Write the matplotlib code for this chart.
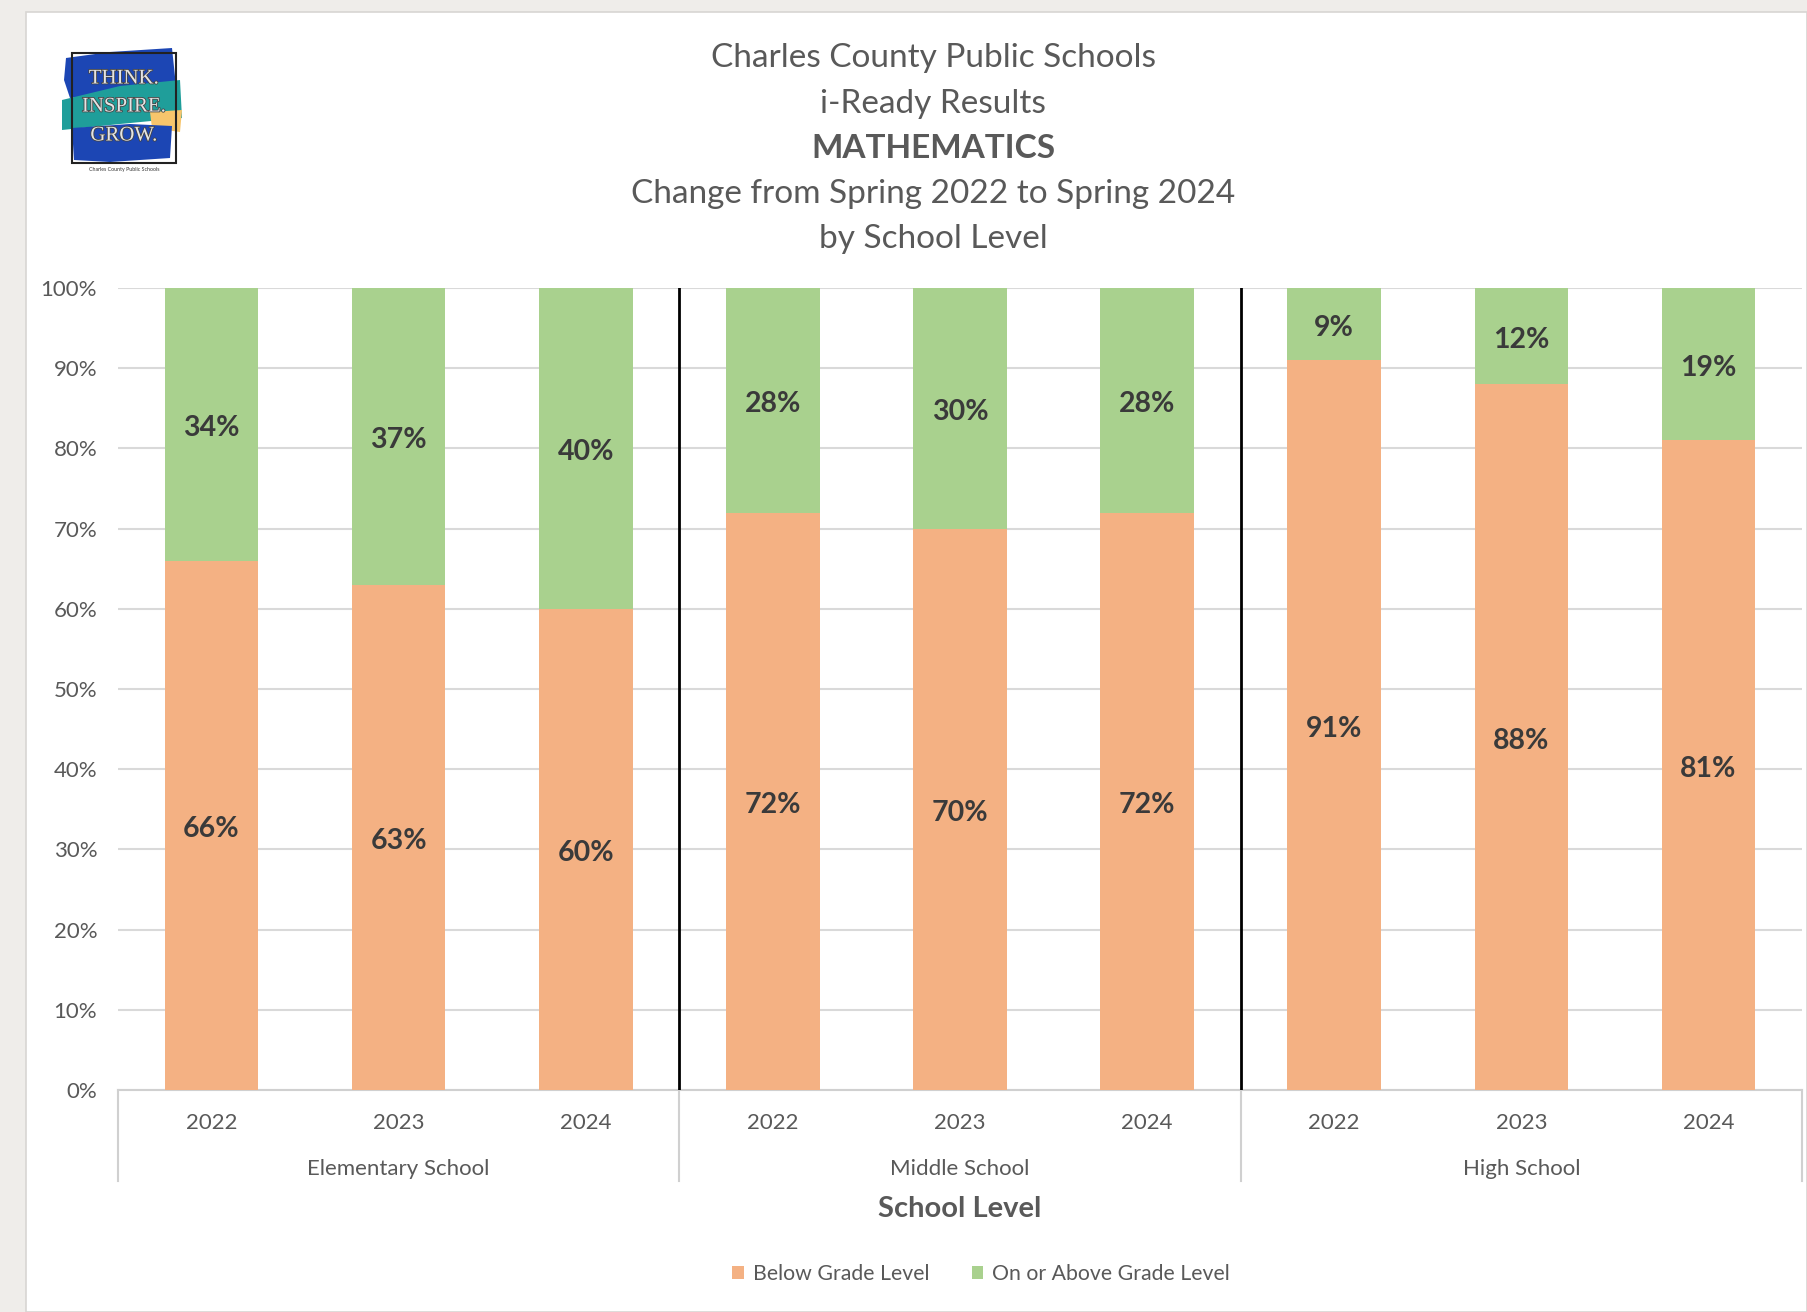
import matplotlib
matplotlib.use("Agg")
import matplotlib.pyplot as plt
from matplotlib.patches import Rectangle, Patch, Polygon
import matplotlib.patheffects as pe
import numpy as np

# ---------------- data ----------------
years = ["2022", "2023", "2024"] * 3
groups = ["Elementary School", "Middle School", "High School"]
below = [66, 63, 60, 72, 70, 72, 91, 88, 81]
above = [34, 37, 40, 28, 30, 28, 9, 12, 19]
yticks = [0, 10, 20, 30, 40, 50, 60, 70, 80, 90, 100]
title_lines = ["Charles County Public Schools", "i-Ready Results", "MATHEMATICS",
               "Change from Spring 2022 to Spring 2024", "by School Level"]
series_names = ["Below Grade Level", "On or Above Grade Level"]

ORANGE = "#F4B183"
GREEN = "#A9D18E"
TXT = "#595959"
LBL = "#3a3a3a"
FONT = "Lato"

W, H = 1807, 1312
fig = plt.figure(figsize=(W / 100, H / 100), dpi=100)
fig.patch.set_facecolor("#efedea")

def fx(px):
    return px / W

def fy(py):
    return 1 - py / H

# white panel
panel = Rectangle((fx(26), 0), 1 - fx(26), fy(12), transform=fig.transFigure,
                  facecolor="white", edgecolor="#d8d6d3", linewidth=1.2, zorder=-10)
fig.patches.append(panel)

# ---------------- main axes ----------------
L, R, T, B = 118, 1802, 288, 1090
ax = fig.add_axes([fx(L), fy(B), fx(R - L), (B - T) / H])
ax.set_facecolor("none")
x = np.arange(len(below))
ax.bar(x, below, width=0.5, color=ORANGE, zorder=3)
ax.bar(x, above, width=0.5, bottom=below, color=GREEN, zorder=3)

dy = -4 / (B - T) * 100  # small downward nudge (data units) to match label centring
for i in range(len(below)):
    ax.text(x[i], below[i] / 2 + dy, f"{below[i]}%", ha="center", va="center", fontsize=20.5,
            fontweight="bold", color=LBL, family=FONT, zorder=4)
    ax.text(x[i], below[i] + above[i] / 2 + dy, f"{above[i]}%", ha="center", va="center",
            fontsize=20.5, fontweight="bold", color=LBL, family=FONT, zorder=4)

ax.set_xlim(-0.5, len(below) - 0.5)
ax.set_ylim(0, 100)
ax.set_yticks(yticks)
ax.set_yticklabels([f"{v}%" for v in yticks], family=FONT, fontsize=16, color=TXT)
ax.yaxis.grid(True, color="#d9d9d9", linewidth=1.5, zorder=0)
ax.tick_params(axis="y", length=0, pad=15)
ax.tick_params(axis="x", length=0, pad=0)
ax.set_xticks(x)
ax.set_xticklabels([])
for s in ["top", "right", "left"]:
    ax.spines[s].set_visible(False)
ax.spines["bottom"].set_color("#d0d0d0")
ax.spines["bottom"].set_linewidth(1.5)

def ypx(py):
    return -(py - B) / (B - T) * 100

# year labels
for i in range(len(below)):
    ax.text(x[i], ypx(1123), years[i], ha="center", va="center",
            fontsize=16, color=TXT, family=FONT, clip_on=False)
# group labels and brackets
for g, name in enumerate(groups):
    ax.text(3 * g + 1, ypx(1169), name, ha="center", va="center",
            fontsize=16, color=TXT, family=FONT, clip_on=False)
for xb in [-0.5, 2.5, 5.5, 8.5]:
    ax.plot([xb, xb], [0, ypx(1181)], color="#d0d0d0", linewidth=1.5, clip_on=False)
for xb in [2.5, 5.5]:
    ax.plot([xb, xb], [0, 100], color="black", linewidth=2, zorder=5)

ax.text(0.5, -(1209 - B) / (B - T), "School Level", transform=ax.transAxes, ha="center",
        va="center", fontsize=21, fontweight="bold", color=TXT, family=FONT)

# ---------------- title ----------------
ty = [58, 104, 149, 194, 239]
for i, line in enumerate(title_lines):
    fig.text(fx(933), fy(ty[i]), line, ha="center", va="center", fontsize=24, color=TXT,
             family=FONT, fontweight="bold" if i == 2 else "normal")

# ---------------- legend ----------------
handles = [Patch(facecolor=ORANGE, label=series_names[0]), Patch(facecolor=GREEN, label=series_names[1])]
leg = fig.legend(handles=handles, loc="center", bbox_to_anchor=(fx(981), fy(1274)), ncol=2,
                 frameon=False, prop={"family": FONT, "size": 15.3}, handlelength=0.55,
                 handleheight=0.55, handletextpad=0.4, columnspacing=2.0)
for t in leg.get_texts():
    t.set_color(TXT)

# ---------------- logo ----------------
lax = fig.add_axes([fx(50), fy(185), fx(140), (185 - 40) / H])
lax.set_xlim(50, 190)
lax.set_ylim(185, 40)
lax.axis("off")
lax.add_patch(Polygon([[66, 58], [110, 52], [172, 48], [176, 86], [120, 92], [70, 98], [64, 80]],
                      closed=True, facecolor="#1c46b4", edgecolor="none"))
lax.add_patch(Polygon([[62, 100], [120, 86], [180, 80], [182, 118], [120, 124], [62, 130]],
                      closed=True, facecolor="#1f9e9a", edgecolor="none"))
lax.add_patch(Polygon([[150, 112], [182, 110], [180, 132], [152, 128]],
                      closed=True, facecolor="#f7c56c", edgecolor="none"))
lax.add_patch(Polygon([[72, 128], [130, 124], [172, 126], [170, 158], [110, 162], [74, 160]],
                      closed=True, facecolor="#1c46b4", edgecolor="none"))
lax.add_patch(Rectangle((72, 53), 104, 110, fill=False, edgecolor="#222222", linewidth=1.5))
for txt, yy, fs in [("THINK.", 79, 15), ("INSPIRE.", 107, 15), ("GROW.", 136, 15)]:
    lax.text(124, yy, txt, ha="center", va="center", fontsize=fs, color="#e4e4e4",
             family="Liberation Serif",
             path_effects=[pe.withStroke(linewidth=1.2, foreground="#444444")])
lax.text(124, 170, "Charles County Public Schools", ha="center", va="center", fontsize=3.8,
         color="#333333", family=FONT)

fig.savefig("out.png", dpi=100, facecolor=fig.get_facecolor())
